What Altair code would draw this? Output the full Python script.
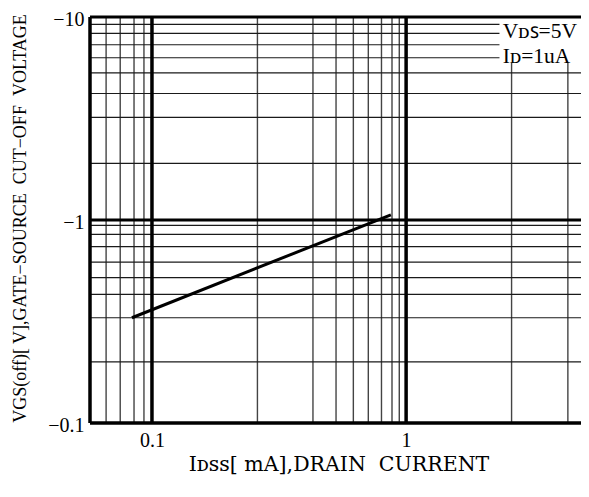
import altair as alt
import pandas as pd

# ---- data ----
x_min, x_max = 0.05704, 4.877          # IDSS axis range [mA]
y_min, y_max = 0.1, 10                 # |VGS(off)| axis range [V]
x_major = [0.1, 1]
x_minor = [0.066, 0.075, 0.085, 0.093, 0.26, 0.43, 0.53, 0.62, 0.71, 0.80,
           0.88, 0.94, 2.6, 4.33]
y_major = [1]
y_minor = [0.2, 0.33, 0.43, 0.52, 0.62, 0.74, 0.85, 0.94,
           1.9, 3.2, 4.2, 5.3, 6.3, 7.3, 8.3, 9.2]
idss = [0.0834, 0.871]
vgs_off = [0.330, 1.061]
box_x = [2.33, x_max]
box_y = [5.93, 10]
notes = ["V\u1d05\ua731=5V", "I\u1d05=1uA"]
note_x = [2.40, 2.40]
note_y = [7.89, 5.95]

SERIF = "Liberation Serif"

xs = alt.Scale(type="log", domain=[x_min, x_max], nice=False)
ys = alt.Scale(type="log", domain=[y_min, y_max], nice=False)

W, H = 491, 406

x_axis = alt.Axis(
    values=x_major, labelExpr="datum.value == 1 ? '1' : '0.1'",
    grid=False, ticks=False, domain=False, labelFlush=False,
    labelFont=SERIF, labelFontSize=20, labelColor="black", labelPadding=7,
    title="I\u1d05\ua731\ua731[ mA],DRAIN\u00a0\u00a0CURRENT",
    titleFont="DejaVu Serif", titleFontSize=20.5, titleFontWeight="normal",
    titleColor="black", titleX=248.5, titleY=47, titleBaseline="alphabetic",
    titleAlign="center")
y_axis = alt.Axis(
    values=[0.1, 1, 10], labelExpr="'\u2212' + datum.value",
    grid=False, ticks=False, domain=False, labelFlush=False,
    labelFont=SERIF, labelFontSize=20, labelColor="black", labelPadding=6,
    labelOffset=2.5,
    title="VGS(off)[ V],GATE\u2212SOURCE\u00a0\u00a0CUT\u2212OFF\u00a0\u00a0VOLTAGE",
    titleFont=SERIF, titleFontSize=18, titleFontWeight="normal",
    titleColor="black", titleAngle=270, titleX=-65, titleY=201,
    titleBaseline="alphabetic", titleAlign="center")

def X(f="x"):
    return alt.X(f"{f}:Q", scale=xs, axis=x_axis)

def Y(f="y"):
    return alt.Y(f"{f}:Q", scale=ys, axis=y_axis)

vminor = alt.Chart(pd.DataFrame({"x": x_minor})).mark_rule(
    color="#444", strokeWidth=1.4).encode(x=X())
hminor = alt.Chart(pd.DataFrame({"y": y_minor})).mark_rule(
    color="#1a1a1a", strokeWidth=1.2).encode(y=Y())
vmajor = alt.Chart(pd.DataFrame({"x": x_major})).mark_rule(
    color="black", strokeWidth=3.5).encode(x=X())
hmajor = alt.Chart(pd.DataFrame({"y": y_major})).mark_rule(
    color="black", strokeWidth=3).encode(y=Y())

box = alt.Chart(pd.DataFrame({"x": [box_x[0]], "x2": [box_x[1]],
                              "y": [box_y[0]], "y2": [box_y[1]]})).mark_rect(
    color="white").encode(x=X(), x2="x2:Q", y=Y(), y2="y2:Q")

note = alt.Chart(pd.DataFrame({"x": note_x, "y": note_y, "t": notes})).mark_text(
    font=SERIF, fontSize=21.5, color="black", align="left",
    baseline="alphabetic").encode(x=X(), y=Y(), text="t:N")

frame_top = alt.Chart(pd.DataFrame({"y": [y_max]})).mark_rule(
    color="black", strokeWidth=3).encode(y=Y())
frame_bottom = alt.Chart(pd.DataFrame({"y": [y_min]})).mark_rule(
    color="black", strokeWidth=3.5).encode(y=Y())
frame_left = alt.Chart(pd.DataFrame({"x": [x_min]})).mark_rule(
    color="black", strokeWidth=3.5).encode(x=X())

curve = alt.Chart(pd.DataFrame({"x": idss, "y": vgs_off})).mark_line(
    color="black", strokeWidth=3).encode(x=X(), y=Y())

chart = alt.layer(
    vminor, hminor, vmajor, hmajor, box, note,
    frame_top, frame_bottom, frame_left, curve
).properties(
    width=W, height=H,
    autosize=alt.AutoSizeParams(type="none"),
    padding={"left": 82, "top": 9, "right": 0, "bottom": 62},
    background="white",
).configure_view(stroke=None)

chart.save("out.html", embed_options={"renderer": "svg", "actions": False})
